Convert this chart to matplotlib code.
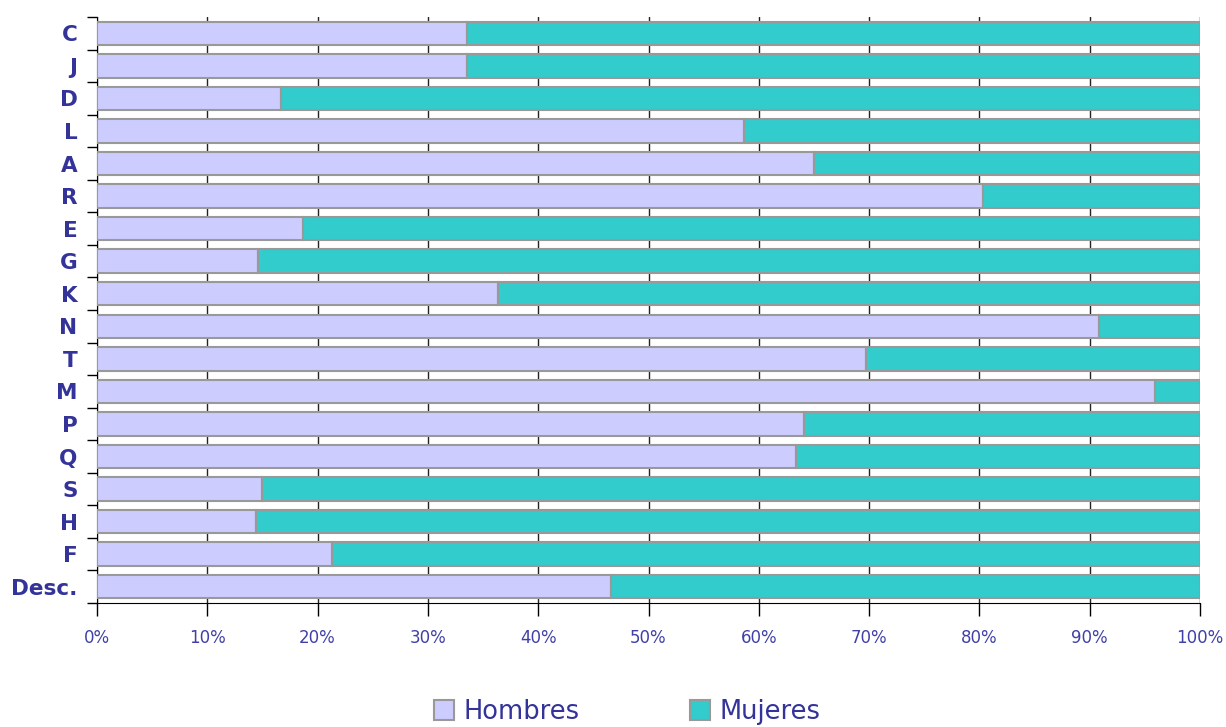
import matplotlib
matplotlib.use("Agg")
import matplotlib.pyplot as plt
import numpy as np

categories = ["C", "J", "D", "L", "A", "R", "E", "G", "K", "N", "T", "M", "P", "Q", "S", "H", "F", "Desc."]
hombres = [33.5, 33.5, 16.7, 58.7, 65.0, 80.3, 18.7, 14.6, 36.4, 90.8, 69.7, 95.9, 64.1, 63.4, 15.0, 14.4, 21.3, 46.6]
mujeres = [100 - h for h in hombres]
xticks = list(range(0, 101, 10))
xticklabels = [f"{t}%" for t in xticks]

col_h = "#CCCCFF"
col_m = "#33CCCC"
edge = "#999999"
txt = "#333399"
tick_txt = "#4040A8"

fig = plt.figure(figsize=(12.26, 7.27), dpi=100)
ax = fig.add_axes([97/1226, 1 - 603/727, (1200-97)/1226, (603-17)/727])

y = np.arange(len(categories))
ax.barh(y, hombres, height=0.72, color=col_h, edgecolor=edge, linewidth=1.5, label="Hombres", zorder=3)
ax.barh(y, mujeres, left=hombres, height=0.72, color=col_m, edgecolor=edge, linewidth=1.5, label="Mujeres", zorder=3)

ax.set_xlim(0, 100)
ax.set_ylim(len(categories) - 0.5, -0.5)
ax.set_xticks(xticks)
ax.set_xticklabels(xticklabels, color=tick_txt, fontsize=12)
ax.tick_params(axis="x", direction="out", length=9, width=1, color="black", pad=10)
ax.set_yticks(y)
ax.set_yticklabels(categories, fontsize=15.5, fontweight="bold", color=txt)
ax.tick_params(axis="y", length=0, pad=14)
ax.set_yticks(np.arange(len(categories) + 1) - 0.5, minor=True)
ax.tick_params(axis="y", which="minor", length=7, width=1, color="black", direction="out")

ax.grid(axis="x", color="#222222", linewidth=1, zorder=0)
ax.set_axisbelow(True)
for s in ["top", "right"]:
    ax.spines[s].set_visible(False)
ax.spines["left"].set_color("black")
ax.spines["bottom"].set_color("black")

fig.legend(loc="center", bbox_to_anchor=(627/1226, 1 - 712/727), ncol=2, frameon=False,
           fontsize=18.5, labelcolor=txt, columnspacing=4.3, handlelength=0.8, handleheight=0.8,
           handletextpad=0.35)

fig.savefig("out.png", dpi=100)
